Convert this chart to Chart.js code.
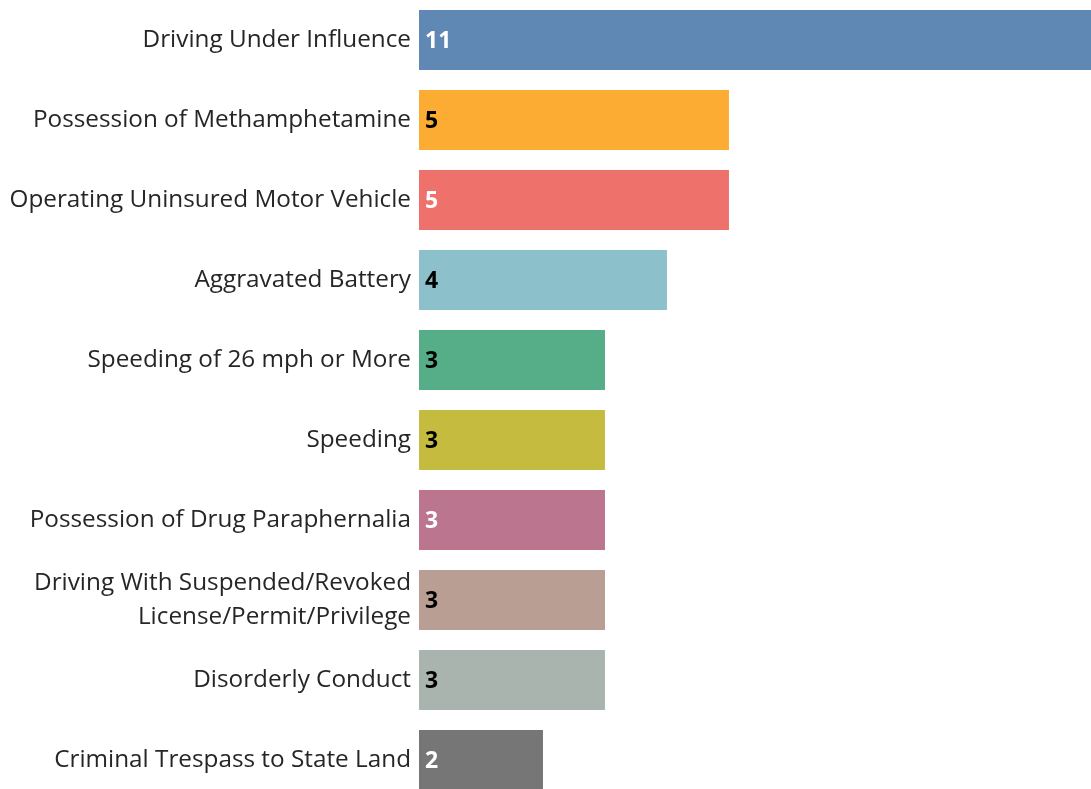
<!DOCTYPE html>
<html>
<head>
<meta charset="utf-8">
<script src="https://cdn.jsdelivr.net/npm/chart.js@4.4.1/dist/chart.umd.min.js"></script>
<style>
  html, body { margin: 0; padding: 0; background: #fff; overflow: hidden; }
  #wrap { position: relative; width: 1091px; height: 800px; }
</style>
</head>
<body>
<div id="wrap"><canvas id="chargesChart"></canvas></div>
<script>
// charge categories and counts
const charges = [
  "Driving Under Influence",
  "Possession of Methamphetamine",
  "Operating Uninsured Motor Vehicle",
  "Aggravated Battery",
  "Speeding of 26 mph or More",
  "Speeding",
  "Possession of Drug Paraphernalia",
  ["Driving With Suspended/Revoked", "License/Permit/Privilege"],
  "Disorderly Conduct",
  "Criminal Trespass to State Land",
];
const counts = [11, 5, 5, 4, 3, 3, 3, 3, 3, 2];

const barColors = [
  "#6088b4", "#fdac33", "#ef716b", "#8cc1cb", "#56ae88",
  "#c5bc3f", "#bb758f", "#b99f93", "#aab4ae", "#767676",
];
const labelColors = [
  "#ffffff", "#000000", "#ffffff", "#000000", "#000000",
  "#000000", "#ffffff", "#000000", "#000000", "#ffffff",
];

// draws the count just inside the start of each bar
const valueLabels = {
  id: "valueLabels",
  afterDatasetsDraw(chart) {
    const ctx = chart.ctx;
    const meta = chart.getDatasetMeta(0);
    ctx.save();
    ctx.font = "bold 23px 'Open Sans', sans-serif";
    ctx.textAlign = "left";
    ctx.textBaseline = "middle";
    meta.data.forEach(function (bar, i) {
      ctx.fillStyle = labelColors[i];
      ctx.fillText(String(counts[i]), bar.base + 6, bar.y + 1);
    });
    ctx.restore();
  },
};

new Chart(document.getElementById("chargesChart"), {
  type: "bar",
  data: {
    labels: charges,
    datasets: [
      {
        data: counts,
        backgroundColor: barColors,
        borderWidth: 0,
        categoryPercentage: 1,
        barPercentage: 0.75,
      },
    ],
  },
  options: {
    indexAxis: "y",
    responsive: true,
    maintainAspectRatio: false,
    animation: false,
    layout: { padding: 0 },
    plugins: {
      legend: { display: false },
      tooltip: { enabled: false },
    },
    scales: {
      x: {
        display: false,
        min: 0,
        max: 10.84,
      },
      y: {
        grid: { display: false, drawTicks: false },
        border: { display: false },
        afterFit: function (scale) {
          scale.width = 419;
          // categories fill the full height, no room kept for label overhang
          scale.paddingTop = 0;
          scale.paddingBottom = 0;
        },
        ticks: {
          color: "#262626",
          padding: 8,
          font: { family: "'Open Sans', sans-serif", size: 24.3, lineHeight: 1.38 },
        },
      },
    },
  },
  plugins: [valueLabels],
});
</script>
</body>
</html>
